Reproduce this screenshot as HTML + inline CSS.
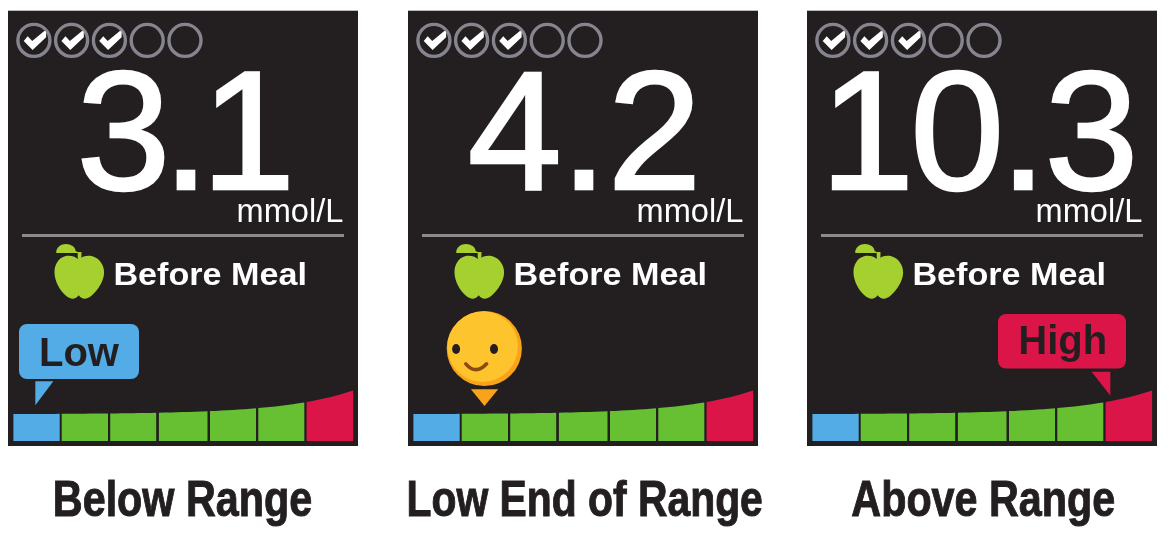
<!DOCTYPE html>
<html lang="en"><head><meta charset="utf-8"><title>Range indicators</title>
<style>
html,body{margin:0;padding:0;background:#fff;}
body{width:1173px;height:545px;overflow:hidden;font-family:"Liberation Sans",sans-serif;}
svg{display:block;position:absolute;left:0;top:0;}
</style></head><body>
<svg width="1173" height="545" viewBox="0 0 1173 545">

<defs>
 <clipPath id="faceclip"><circle cx="76.3" cy="337.5" r="37.6"/></clipPath>
 <g id="bars">
 <path d="M5.4 429.9 L5.4 403.0 L11.2 403.0 L17.0 403.0 L22.8 403.0 L28.6 402.9 L34.3 402.9 L40.1 402.9 L45.9 402.9 L51.7 402.8 L51.7 429.9Z" fill="#54ace6"/>
<path d="M53.7 429.9 L53.7 402.8 L59.5 402.8 L65.3 402.8 L71.1 402.7 L76.8 402.7 L82.6 402.6 L88.4 402.6 L94.2 402.5 L100.0 402.5 L100.0 429.9Z" fill="#67c031"/>
<path d="M102.2 429.9 L102.2 402.5 L108.0 402.4 L113.7 402.3 L119.4 402.3 L125.2 402.2 L130.9 402.1 L136.7 402.0 L142.4 401.9 L148.2 401.8 L148.2 429.9Z" fill="#67c031"/>
<path d="M150.9 429.9 L150.9 401.7 L157.0 401.6 L163.1 401.5 L169.1 401.3 L175.2 401.1 L181.3 400.9 L187.3 400.7 L193.4 400.5 L199.5 400.3 L199.5 429.9Z" fill="#67c031"/>
<path d="M202.0 429.9 L202.0 400.1 L207.8 399.9 L213.5 399.6 L219.2 399.3 L225.0 399.0 L230.8 398.6 L236.5 398.2 L242.2 397.8 L248.0 397.3 L248.0 429.9Z" fill="#67c031"/>
<path d="M250.3 429.9 L250.3 397.1 L256.1 396.6 L261.8 396.0 L267.6 395.4 L273.3 394.7 L279.1 394.0 L284.8 393.2 L290.6 392.3 L296.3 391.4 L296.3 429.9Z" fill="#67c031"/>
<path d="M298.6 429.9 L298.6 391.0 L304.4 389.9 L310.2 388.8 L316.0 387.5 L321.9 386.2 L327.7 384.7 L333.5 383.1 L339.3 381.3 L345.1 379.4 L345.1 429.9Z" fill="#dc1549"/>
 </g>
 <g id="ring"><circle r="16" fill="none" stroke="#86858f" stroke-width="3.4"/></g>
 <g id="ringck"><circle r="16" fill="none" stroke="#86858f" stroke-width="3.4"/>
   <path d="M-10.2 0.6 L-6.2 -4.2 L-1.7 0.6 L10.4 -9.5 L12.2 -9 L12.2 -3.2 L-1.3 9.5Z" fill="#fff"/></g>
 <g id="apple" fill="#a6d030">
   <path d="M34.7 23.8 C32 20.5 26 18.8 21 20.2 C14 22.2 10.3 29 10.5 37 C10.7 45 15.5 54 22 59.8 C26 63.3 31.5 64 34.7 59.3 C37.9 64 43.4 63.3 47.4 59.8 C53.9 54 59.9 45 60.1 37 C60.3 29 55.4 22.2 48.4 20.2 C43.4 18.8 37.4 20.5 34.7 23.8Z"/>
   <path d="M33.6 16 L37.5 16 L37.3 25 L33.8 25Z"/>
   <path d="M12.2 16.6 C12.2 11 17 8 21.8 8 C27 8 31.5 11 31.6 15 L33.8 16 L33.8 17 L12.2 17Z"/>
 </g>
 <g id="common">
   <rect x="0" y="-0.3" width="350" height="435.3" fill="#231f20"/>
   <use href="#ringck" x="25.9" y="29.4"/>
   <use href="#ringck" x="63.6" y="29.4"/>
   <use href="#ringck" x="101.4" y="29.4"/>
   <use href="#ring" x="139.2" y="29.4"/>
   <use href="#ring" x="177" y="29.4"/>
   <rect x="14" y="223" width="322" height="3" fill="#8b8b8e"/>
   <use href="#apple" x="36" y="225"/>
   <use href="#bars"/>
 </g>
</defs>


<g transform="translate(8,11)">
 <use href="#common"/>
 <text x="228.6" y="211.1" textLength="106.8" lengthAdjust="spacingAndGlyphs" font-family="'Liberation Sans',sans-serif" font-size="32.8" fill="#fff">mmol/L</text>
 <text x="105.4" y="274.3" textLength="193.6" lengthAdjust="spacingAndGlyphs" font-family="'Liberation Sans',sans-serif" font-weight="700" font-size="32" fill="#fff">Before Meal</text>
 <text y="178.25" font-family="'Liberation Sans',sans-serif" font-size="169" fill="#fff" stroke="#fff" stroke-width="2.5"><tspan x="68.6">3</tspan><tspan x="154.5">.</tspan><tspan x="193.3">1</tspan></text>
 <rect x="11" y="313" width="120" height="55" rx="8" fill="#54ace6"/>
 <path d="M27.3 370.2 L45.3 370.2 L27.3 394.3Z" fill="#54ace6"/>
 <text x="71" y="355" text-anchor="middle" font-family="'Liberation Sans',sans-serif" font-weight="700" font-size="40" fill="#231f20">Low</text>
</g>

<g transform="translate(408,11)">
 <use href="#common"/>
 <text x="228.6" y="211.1" textLength="106.8" lengthAdjust="spacingAndGlyphs" font-family="'Liberation Sans',sans-serif" font-size="32.8" fill="#fff">mmol/L</text>
 <text x="105.4" y="274.3" textLength="193.6" lengthAdjust="spacingAndGlyphs" font-family="'Liberation Sans',sans-serif" font-weight="700" font-size="32" fill="#fff">Before Meal</text>
 <text y="178.25" font-family="'Liberation Sans',sans-serif" font-size="169" fill="#fff" stroke="#fff" stroke-width="2.5"><tspan x="59.8">4</tspan><tspan x="152.6">.</tspan><tspan x="199.5">2</tspan></text>
 <circle cx="76.3" cy="337.5" r="37.6" fill="#f9a31a"/>
 <circle cx="74.6" cy="335.6" r="35.3" fill="#fdc42e" clip-path="url(#faceclip)"/>
 <ellipse cx="48.1" cy="338" rx="4" ry="5" fill="#231f20"/>
 <ellipse cx="86" cy="338" rx="4" ry="5" fill="#231f20"/>
 <path d="M57.8 352.8 Q67.8 364.5 78.6 352.8" fill="none" stroke="#8c4a12" stroke-width="3.6" stroke-linecap="round"/>
 <path d="M62.9 378.2 L90.2 378.2 L76.5 395Z" fill="#f9a31a"/>
</g>

<g transform="translate(807,11)">
 <use href="#common"/>
 <text x="228.6" y="211.1" textLength="106.8" lengthAdjust="spacingAndGlyphs" font-family="'Liberation Sans',sans-serif" font-size="32.8" fill="#fff">mmol/L</text>
 <text x="105.4" y="274.3" textLength="193.6" lengthAdjust="spacingAndGlyphs" font-family="'Liberation Sans',sans-serif" font-weight="700" font-size="32" fill="#fff">Before Meal</text>
 <text y="178.25" font-family="'Liberation Sans',sans-serif" font-size="169" fill="#fff" stroke="#fff" stroke-width="2.5"><tspan x="13.2">1</tspan><tspan x="103.3">0</tspan><tspan x="192.75">.</tspan><tspan x="237.6">3</tspan></text>
 <rect x="191" y="303" width="128" height="54.5" rx="8" fill="#dc1549"/>
 <path d="M284.6 360.7 L303.3 360.7 L303.3 384.4Z" fill="#dc1549"/>
 <text x="255.8" y="342.9" text-anchor="middle" font-family="'Liberation Sans',sans-serif" font-weight="700" font-size="40" fill="#231f20">High</text>
</g>

<text font-family="'Liberation Sans',sans-serif" font-weight="700" font-size="50.5" fill="#231f20" stroke="#231f20" stroke-width="1" text-anchor="middle" transform="translate(182.5 515.6) scale(0.818 1)">Below Range</text>
<text font-family="'Liberation Sans',sans-serif" font-weight="700" font-size="50.5" fill="#231f20" stroke="#231f20" stroke-width="1" text-anchor="middle" transform="translate(584.7 515.6) scale(0.809 1)">Low End of Range</text>
<text font-family="'Liberation Sans',sans-serif" font-weight="700" font-size="50.5" fill="#231f20" stroke="#231f20" stroke-width="1" text-anchor="middle" transform="translate(983.3 515.6) scale(0.818 1)">Above Range</text>

</svg>
</body></html>
